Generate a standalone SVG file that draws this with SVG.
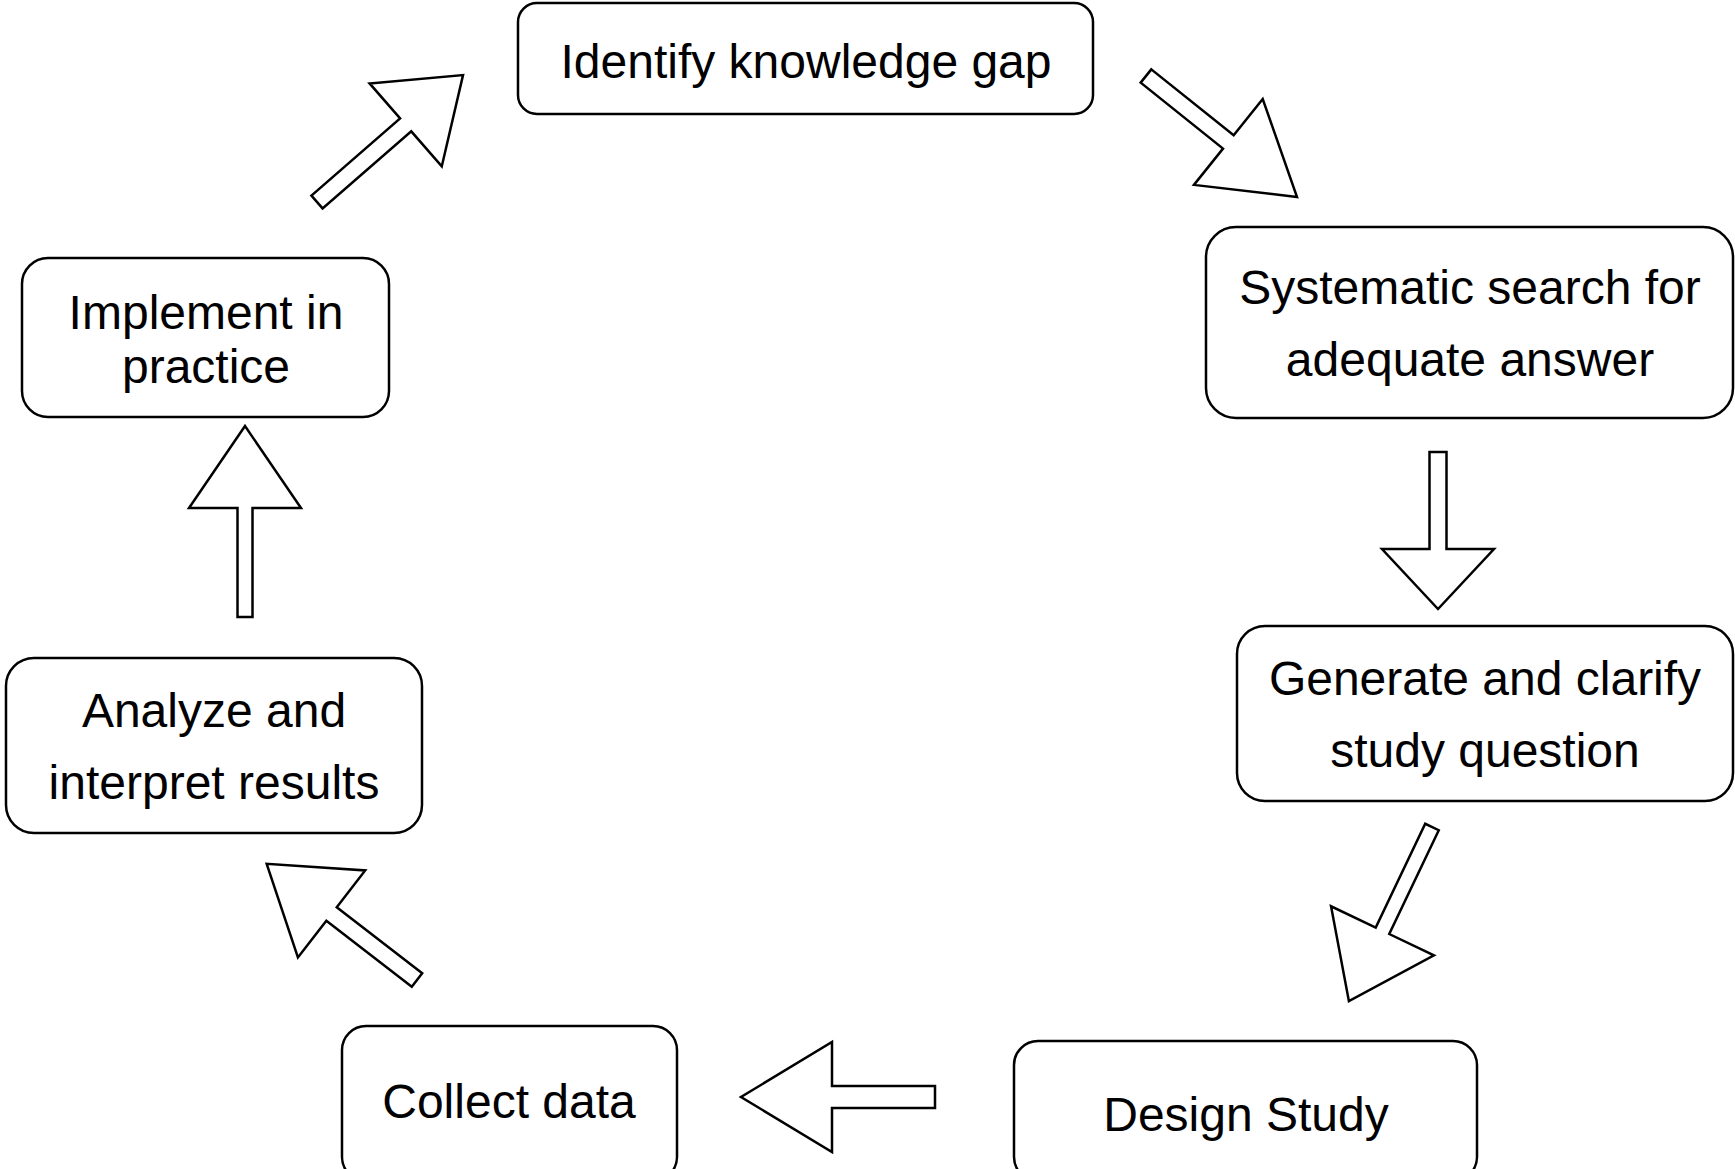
<svg xmlns="http://www.w3.org/2000/svg" width="1735" height="1169" viewBox="0 0 1735 1169">
  <style>
    .box { fill: #ffffff; stroke: #000000; stroke-width: 2.5; }
    .lbl { font-family: "Liberation Sans", Arial, sans-serif; font-size: 48px; fill: #000000; text-anchor: middle; }
    .arr { fill: #ffffff; stroke: #000000; stroke-width: 2.5; stroke-linejoin: miter; }
  </style>
  <rect width="1735" height="1169" fill="#ffffff"/>

  <!-- block arrows between the steps of the cycle -->
  <g id="connectors">
    <polygon class="arr" transform="translate(1146,76) rotate(38.7)" points="0,-8.5 105.5,-8.5 105.5,-55 193.5,0 105.5,55 105.5,8.5 0,8.5"/>
    <polygon class="arr" transform="translate(1438,452) rotate(90)" points="0,-8.5 97,-8.5 97,-56 157,0 97,56 97,8.5 0,8.5"/>
    <polygon class="arr" transform="translate(1432,827) rotate(115.5)" points="0,-7.5 115,-7.5 115,-57 193,0 115,57 115,7.5 0,7.5"/>
    <polygon class="arr" transform="translate(935,1097) rotate(180)" points="0,-11 103,-11 103,-55 194,0 103,55 103,11 0,11"/>
    <polygon class="arr" transform="translate(417,980) rotate(-142.3)" points="0,-8.5 108,-8.5 108,-55 190,0 108,55 108,8.5 0,8.5"/>
    <polygon class="arr" transform="translate(245,617) rotate(-90)" points="0,-7.5 109,-7.5 109,-56 191,0 109,56 109,7.5 0,7.5"/>
    <polygon class="arr" transform="translate(317,202) rotate(-41)" points="0,-8.5 117.5,-8.5 117.5,-55 193.5,0 117.5,55 117.5,8.5 0,8.5"/>
  </g>

  <g id="identify-gap">
    <rect class="box" x="518" y="3" width="575" height="111" rx="19"/>
    <text class="lbl" x="806" y="78">Identify knowledge gap</text>
  </g>

  <g id="systematic-search">
    <rect class="box" x="1206" y="227" width="527" height="191" rx="30"/>
    <text class="lbl" x="1470" y="304">Systematic search for</text>
    <text class="lbl" x="1470" y="376">adequate answer</text>
  </g>

  <g id="study-question">
    <rect class="box" x="1237" y="626" width="496" height="175" rx="28"/>
    <text class="lbl" x="1485" y="695">Generate and clarify</text>
    <text class="lbl" x="1485" y="767">study question</text>
  </g>

  <g id="design-study">
    <rect class="box" x="1014" y="1041" width="463" height="140" rx="24"/>
    <text class="lbl" x="1246" y="1131">Design Study</text>
  </g>

  <g id="collect-data">
    <rect class="box" x="342" y="1026" width="335" height="155" rx="24"/>
    <text class="lbl" x="509" y="1118">Collect data</text>
  </g>

  <g id="analyze-results">
    <rect class="box" x="6" y="658" width="416" height="175" rx="28"/>
    <text class="lbl" x="214" y="727">Analyze and</text>
    <text class="lbl" x="214" y="799">interpret results</text>
  </g>

  <g id="implement-practice">
    <rect class="box" x="22" y="258" width="367" height="159" rx="26"/>
    <text class="lbl" x="206" y="329">Implement in</text>
    <text class="lbl" x="206" y="383">practice</text>
  </g>
</svg>
